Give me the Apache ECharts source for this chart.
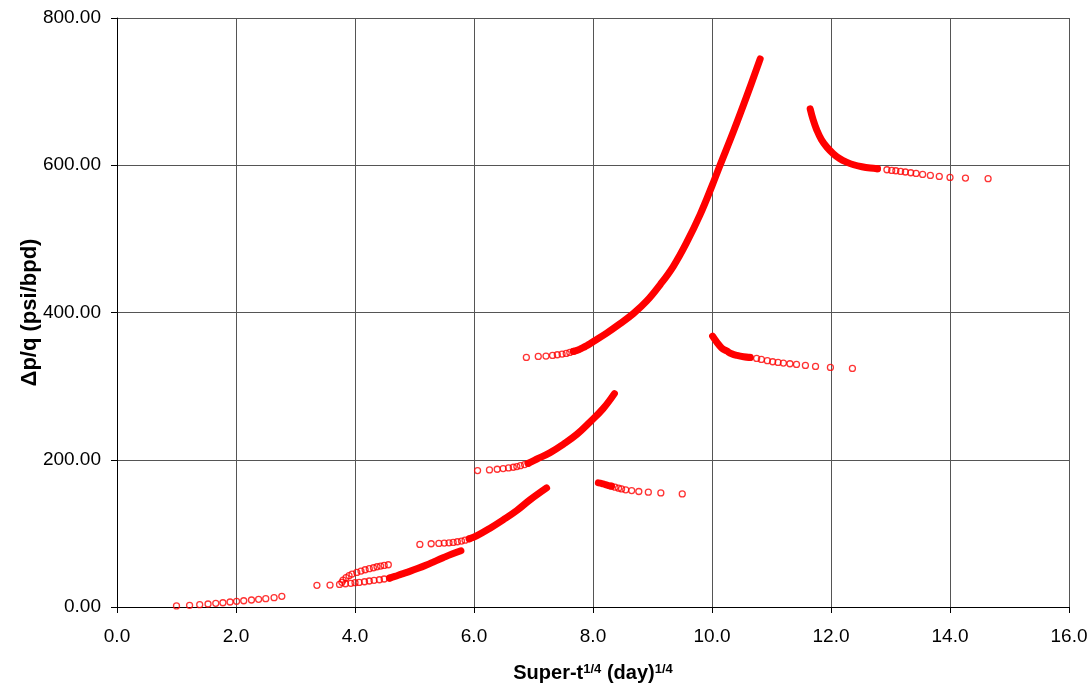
<!DOCTYPE html>
<html>
<head>
<meta charset="utf-8">
<title>Superposition time plot</title>
<script src="https://cdn.jsdelivr.net/npm/echarts@6/dist/echarts.min.js"></script>
<style>
  html, body { margin: 0; padding: 0; background: #fff; }
  #chart { width: 1092px; height: 688px; }
</style>
</head>
<body>
<div id="chart"></div>
<script>
// Axis ticks
const xTicks = { min: 0, max: 16, step: 2 };
const yTicks = { min: 0, max: 800, step: 200 };

// Flow period 1: individual readings
const period1Points = [[1.00,1.4],[1.22,2.3],[1.39,3.1],[1.53,4.1],[1.66,5.0],[1.78,5.8],[1.90,6.8],[2.01,7.7],[2.13,8.5],[2.26,9.5],[2.38,10.4],[2.50,11.3],[2.64,12.7],[2.77,14.5]];

// Flow period 2 (lower branch)
const period2Points = [[3.36,29.4],[3.58,29.8],[3.74,30.7],[3.84,31.6],[3.93,32.1],[4.00,33.0],[4.07,33.4],[4.16,34.3],[4.24,35.3],[4.32,36.2],[4.41,37.0],[4.49,38.0],[4.58,39.3]];
const period2Trace = [[4.58,39.3],[4.67,41.6],[4.78,44.7],[4.92,48.4],[5.06,52.5],[5.20,57.0],[5.34,62.0],[5.48,66.9],[5.63,71.9],[5.78,76.4]];

// Flow period 2b (upper branch)
const period2bPoints = [[3.78,33.5],[3.80,36.6],[3.85,39.8],[3.90,42.5],[3.95,44.7],[4.03,47.0],[4.10,48.8],[4.17,50.6],[4.24,52.0],[4.31,53.3],[4.37,54.7],[4.43,55.6],[4.49,56.5],[4.56,57.4]];

// Flow period 3
const period3Points = [[5.09,85.0],[5.28,85.9],[5.41,86.3],[5.50,86.8],[5.58,87.2],[5.65,87.7],[5.72,88.6],[5.79,89.5],[5.85,90.8],[5.92,92.6]];
const period3Trace = [[5.92,92.6],[6.05,97.0],[6.27,107.1],[6.49,118.4],[6.72,131.1],[6.94,145.5],[7.22,161.8]];

// Flow period 4
const period4Points = [[6.06,185.3],[6.26,186.2],[6.39,187.1],[6.49,188.0],[6.58,188.9],[6.66,189.8],[6.72,190.7],[6.78,192.0],[6.85,193.4],[6.91,195.2]];
const period4Trace = [[6.91,195.2],[7.05,200.7],[7.28,209.7],[7.50,221.0],[7.73,234.6],[7.95,251.3],[8.17,269.4],[8.36,289.8]];

// Flow period 5
const period5Points = [[6.88,339.0],[7.08,340.3],[7.21,340.8],[7.32,341.7],[7.40,342.6],[7.48,343.5],[7.55,344.4],[7.61,345.8],[7.67,347.1]];
const period5Trace = [[7.67,347.1],[7.73,348.5],[7.78,350.2],[7.84,352.5],[7.89,354.8],[7.95,357.6],[8.00,360.3],[8.23,372.0],[8.45,384.5],[8.68,398.6],[8.90,415.3],[9.13,438.0],[9.35,462.8],[9.57,494.5],[9.80,533.0],[10.00,572.0],[10.13,599.0],[10.36,645.8],[10.58,693.0],[10.81,744.4]];

// Falloff 1
const falloff1Trace = [[8.09,168.6],[8.15,167.7],[8.20,166.4],[8.26,165.0],[8.31,164.1]];
const falloff1Points = [[8.31,164.1],[8.37,162.7],[8.43,161.4],[8.48,160.4],[8.55,159.1],[8.65,158.2],[8.77,156.9],[8.93,155.9],[9.14,155.0],[9.50,153.6]];

// Falloff 2
const falloff2Trace = [[10.01,367.9],[10.08,359.8],[10.16,352.1],[10.25,347.6],[10.33,344.0],[10.42,341.7],[10.53,339.9],[10.64,339.0]];
const falloff2Points = [[10.64,339.0],[10.75,337.6],[10.83,336.3],[10.93,334.5],[11.02,333.1],[11.11,332.2],[11.20,331.3],[11.31,330.4],[11.42,329.5],[11.57,328.1],[11.74,326.8],[11.99,325.4],[12.36,324.0]];

// Falloff 3
const falloff3Trace = [[11.65,676.6],[11.70,661.7],[11.76,648.1],[11.84,634.6],[11.93,624.6],[12.04,615.6],[12.15,608.8],[12.26,604.3],[12.38,600.7],[12.52,598.0],[12.66,596.2],[12.78,595.3]];
const falloff3Points = [[12.78,595.3],[12.94,593.9],[13.02,593.0],[13.09,592.5],[13.17,591.6],[13.25,590.8],[13.34,589.8],[13.43,588.9],[13.54,587.5],[13.67,586.2],[13.82,584.8],[14.00,583.5],[14.26,582.6],[14.64,581.7]];

const RED = '#ff0000';
const FONT = '"Liberation Sans", Arial, sans-serif';

// Sparse readings: open red rings
function rings(data) {
  return {
    type: 'scatter',
    data: data,
    symbol: 'circle',
    symbolSize: 6,
    itemStyle: { color: 'rgba(0,0,0,0)', borderColor: RED, borderWidth: 1.3 },
    silent: true,
    z: 3
  };
}
// Dense readings: overlapping rings read as a solid band
function band(data) {
  return {
    type: 'line',
    data: data,
    showSymbol: false,
    smooth: 0.4,
    lineStyle: { color: RED, width: 7, cap: 'round', join: 'round' },
    silent: true,
    z: 3
  };
}

const series = [
  rings(period1Points),
  rings(period2Points), band(period2Trace),
  rings(period2bPoints),
  rings(period3Points), band(period3Trace),
  rings(period4Points), band(period4Trace),
  rings(period5Points), band(period5Trace),
  band(falloff1Trace), rings(falloff1Points),
  band(falloff2Trace), rings(falloff2Points),
  band(falloff3Trace), rings(falloff3Points)
];

const chart = echarts.init(document.getElementById('chart'), null, { renderer: 'canvas' });
chart.setOption({
  animation: false,
  backgroundColor: '#fff',
  grid: { left: 117, right: 23, top: 18, bottom: 80 },
  xAxis: {
    type: 'value',
    min: xTicks.min, max: xTicks.max, interval: xTicks.step,
    name: '{a|Super-t}{s|1/4}{a| (day)}{s|1/4}',
    nameLocation: 'middle',
    nameGap: 56,
    nameMoveOverlap: false,
    nameTextStyle: {
      rich: {
        a: { fontFamily: FONT, fontSize: 20, fontWeight: 'bold', color: '#000' },
        s: { fontFamily: FONT, fontSize: 13, fontWeight: 'bold', color: '#000', verticalAlign: 'top' }
      }
    },
    axisLine: { lineStyle: { color: '#000', width: 1 } },
    axisTick: { show: true, inside: false, length: 6, lineStyle: { color: '#000' } },
    axisLabel: { formatter: v => v.toFixed(1), fontFamily: FONT, fontSize: 19, color: '#000', margin: 20 },
    splitLine: { show: true, lineStyle: { color: '#555', width: 1 } }
  },
  yAxis: {
    type: 'value',
    min: yTicks.min, max: yTicks.max, interval: yTicks.step,
    name: 'Δp/q (psi/bpd)',
    nameLocation: 'middle',
    nameGap: 76,
    nameMoveOverlap: false,
    nameTextStyle: { fontFamily: FONT, fontSize: 22, fontWeight: 'bold', color: '#000' },
    axisLine: { show: true, lineStyle: { color: '#000', width: 1 } },
    axisTick: { show: true, inside: false, length: 6, lineStyle: { color: '#000' } },
    axisLabel: { formatter: v => v.toFixed(2), fontFamily: FONT, fontSize: 19, color: '#000', margin: 16 },
    splitLine: { show: true, lineStyle: { color: '#555', width: 1 } }
  },
  series: series
});
</script>
</body>
</html>
